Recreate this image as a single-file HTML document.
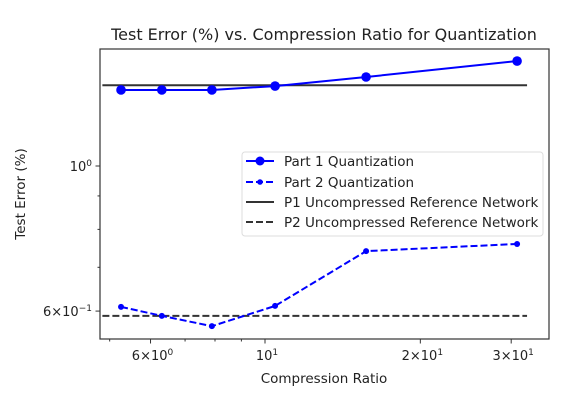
<!DOCTYPE html>
<html><head><meta charset="utf-8"><style>
body{margin:0;background:#fff;}
svg{display:block;font-family:"DejaVu Sans","Liberation Sans",sans-serif;}
</style></head><body>
<svg id="chart" width="574" height="400">
<rect width="574" height="400" fill="#fff"/>
<text x="324" y="40" font-size="16" text-anchor="middle" fill="#222">Test Error (%) vs. Compression Ratio for Quantization</text>
<text x="324" y="383" font-size="13.5" text-anchor="middle" fill="#222">Compression Ratio</text>
<text transform="translate(25,194) rotate(-90)" font-size="13.5" text-anchor="middle" fill="#222">Test Error (%)</text>
<g id="ticks"></g>
<g id="marks"></g>
<rect x="100" y="49" width="449" height="290" fill="none" stroke="#333" stroke-width="1.2"/>
<g>
<rect x="242" y="152" width="301" height="84" rx="3" fill="#fff" fill-opacity="0.85" stroke="#ddd"/>
<g><line x1="246" y1="161" x2="274" y2="161" stroke="#0000ff" stroke-width="2"/><circle cx="260" cy="161" r="4.5" fill="#0000ff"/><text x="284" y="166" font-size="13.5" fill="#222">Part 1 Quantization</text></g>
<g><line x1="246" y1="182" x2="274" y2="182" stroke="#0000ff" stroke-width="2" stroke-dasharray="7,3"/><circle cx="260" cy="182" r="2.8" fill="#0000ff"/><text x="284" y="187" font-size="13.5" fill="#222">Part 2 Quantization</text></g>
<g><line x1="246" y1="202" x2="274" y2="202" stroke="#333" stroke-width="2"/><text x="284" y="207" font-size="13.5" fill="#222">P1 Uncompressed Reference Network</text></g>
<g><line x1="246" y1="222" x2="274" y2="222" stroke="#333" stroke-width="2" stroke-dasharray="7,3"/><text x="284" y="227" font-size="13.5" fill="#222">P2 Uncompressed Reference Network</text></g>
</g>
</svg>
<script>
const ratios = [5.26, 6.31, 7.89, 10.46, 15.7, 30.8];
const part1Error = [1.307, 1.307, 1.307, 1.325, 1.368, 1.447];
const part2Error = [0.609, 0.590, 0.569, 0.611, 0.741, 0.760];
const p1Reference = 1.329;
const p2Reference = 0.590;
const refRange = [4.84, 32.2];
const xMajorTicks = [6, 10, 20, 30];
const xMajorBase = ["6×10", "10", "2×10", "3×10"];
const xMajorExp = ["0", "1", "1", "1"];
const xMinorTicks = [5, 7, 8, 9];
const yMajorTicks = [1, 0.6];
const yMajorBase = ["10", "6×10"];
const yMajorExp = ["0", "−1"];
const yMinorTicks = [0.7, 0.8, 0.9];

const NS = "http://www.w3.org/2000/svg";
function x(v){ return 265 + Math.log10(v/10)*516; }
function y(v){ return 166 - Math.log10(v)*654; }
function mk(tag, attrs, parent){
  const e = document.createElementNS(NS, tag);
  for (const k in attrs) e.setAttribute(k, attrs[k]);
  parent.appendChild(e); return e;
}
function label(parent, base, exp){
  const a = mk('tspan',{},parent); a.textContent = base;
  const b = mk('tspan',{dy:-5,'font-size':9},parent); b.textContent = exp;
}
const ticks = document.getElementById('ticks');
const marks = document.getElementById('marks');

xMajorTicks.forEach((t,i)=>{
  const l = mk('line',{x1:x(t),x2:x(t),y1:339,y2:343.5,stroke:'#333'},ticks);
  
  
  const tx = mk('text',{x:x(t)+2,y:360,'font-size':13,'text-anchor':'middle',fill:'#222'},ticks);
  label(tx, xMajorBase[i], xMajorExp[i]);
  
  
});
xMinorTicks.forEach(t=>{
  const l = mk('line',{x1:x(t),x2:x(t),y1:339,y2:341.5,stroke:'#333'},ticks);
  
  
});
yMajorTicks.forEach((t,i)=>{
  const l = mk('line',{x1:95.5,x2:100,y1:y(t),y2:y(t),stroke:'#333'},ticks);
  
  
  const tx = mk('text',{x:92,y:y(t)+5,'font-size':13,'text-anchor':'end',fill:'#222'},ticks);
  label(tx, yMajorBase[i], yMajorExp[i]);
  
  
});
yMinorTicks.forEach(t=>{
  const l = mk('line',{x1:97.5,x2:100,y1:y(t),y2:y(t),stroke:'#333'},ticks);
  
  
});

const r1 = mk('line',{x1:x(refRange[0]),x2:x(refRange[1]),y1:y(p1Reference),y2:y(p1Reference),stroke:'#333','stroke-width':2},marks);


const r2 = mk('line',{x1:x(refRange[0]),x2:x(refRange[1]),y1:y(p2Reference),y2:y(p2Reference),stroke:'#333','stroke-width':2,'stroke-dasharray':'7,3'},marks);



const p1 = mk('polyline',{points:ratios.map((r,i)=>x(r)+','+y(part1Error[i])).join(' '),fill:'none',stroke:'#0000ff','stroke-width':2},marks);


const p2 = mk('polyline',{points:ratios.map((r,i)=>x(r)+','+y(part2Error[i])).join(' '),fill:'none',stroke:'#0000ff','stroke-width':2,'stroke-dasharray':'7,3'},marks);


ratios.forEach((r,i)=>{
  const c = mk('circle',{cx:x(r),cy:y(part1Error[i]),r:4.8,fill:'#0000ff'},marks);
  
  
  const d = mk('circle',{cx:x(r),cy:y(part2Error[i]),r:3,fill:'#0000ff'},marks);
  
  
});
</script>
</body></html>
